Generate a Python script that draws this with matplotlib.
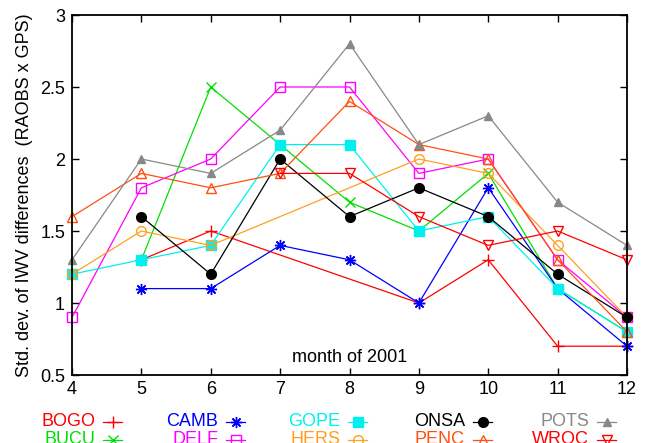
import matplotlib
matplotlib.use('Agg')
import matplotlib.pyplot as plt
from matplotlib.lines import Line2D

plt.rcParams['font.family'] = ['Liberation Sans', 'DejaVu Sans']

# std. dev. of IWV differences per station, by month of 2001
months_bogo = [5, 6, 9, 10, 11, 12]
bogo = [1.3, 1.5, 1.0, 1.3, 0.7, 0.7]
months_bucu = [5, 6, 7, 8, 9, 10, 11, 12]
bucu = [1.3, 2.5, 2.1, 1.7, 1.5, 1.9, 1.1, 0.8]
months_camb = [5, 6, 7, 8, 9, 10, 11, 12]
camb = [1.1, 1.1, 1.4, 1.3, 1.0, 1.8, 1.1, 0.7]
months_delf = [4, 5, 6, 7, 8, 9, 10, 11, 12]
delf = [0.9, 1.8, 2.0, 2.5, 2.5, 1.9, 2.0, 1.3, 0.9]
months_gope = [4, 5, 6, 7, 8, 9, 10, 11, 12]
gope = [1.2, 1.3, 1.4, 2.1, 2.1, 1.5, 1.6, 1.1, 0.8]
months_hers = [4, 5, 6, 9, 10, 11, 12]
hers = [1.2, 1.5, 1.4, 2.0, 1.9, 1.4, 0.9]
months_onsa = [5, 6, 7, 8, 9, 10, 11, 12]
onsa = [1.6, 1.2, 2.0, 1.6, 1.8, 1.6, 1.2, 0.9]
months_penc = [4, 5, 6, 7, 8, 9, 10, 11, 12]
penc = [1.6, 1.9, 1.8, 1.9, 2.4, 2.1, 2.0, 1.3, 0.8]
months_pots = [4, 5, 6, 7, 8, 9, 10, 11, 12]
pots = [1.3, 2.0, 1.9, 2.2, 2.8, 2.1, 2.3, 1.7, 1.4]
months_wroc = [7, 8, 9, 10, 11, 12]
wroc = [1.9, 1.9, 1.6, 1.4, 1.5, 1.3]

names = ['BOGO', 'BUCU', 'CAMB', 'DELF', 'GOPE', 'HERS', 'ONSA', 'PENC', 'POTS', 'WROC']
xs = [months_bogo, months_bucu, months_camb, months_delf, months_gope,
      months_hers, months_onsa, months_penc, months_pots, months_wroc]
ys = [bogo, bucu, camb, delf, gope, hers, onsa, penc, pots, wroc]

# colour, marker, marker size, filled?
styles = [
    ('#ff0000', '+', 8, True),
    ('#00e000', 'x', 6.5, True),
    ('#0000ff', (8, 2, 0), 8, True),
    ('#ff00ff', 's', 6.5, False),
    ('#00f0f0', 's', 6.5, True),
    ('#ffa020', 'o', 7, False),
    ('#000000', 'o', 7, True),
    ('#ff5010', '^', 7, False),
    ('#888888', '^', 6, True),
    ('#ff0000', 'v', 7, False),
]

fs = 13

fig = plt.figure(figsize=(6.48, 4.43), dpi=100)
ax = fig.add_axes([72 / 648, 1 - 375 / 443, 555 / 648, 360 / 443])

for x, y, (c, m, ms, filled) in zip(xs, ys, styles):
    ax.plot(x, y, color=c, lw=0.9, marker=m, ms=ms, mew=1.0,
            mfc=c if filled else 'none', mec=c, clip_on=False)

ax.set_xlim(4, 12)
ax.set_ylim(0.5, 3)
ax.set_xticks(range(4, 13))
ax.set_yticks([0.5, 1, 1.5, 2, 2.5, 3])
ax.set_yticklabels(['0.5', '1', '1.5', '2', '2.5', '3'])
ax.tick_params(direction='in', length=5, width=1, labelsize=fs,
               top=True, right=True, pad=5)
ax.tick_params(axis='x', pad=4)
for s in ax.spines.values():
    s.set_linewidth(1.3)

ax.set_ylabel('Std. dev. of IWV differences  (RAOBS x GPS)', fontsize=fs, labelpad=5)
ax.text(8, 0.62, 'month of 2001', ha='center', va='center', fontsize=fs)

# gnuplot-style key below the plot: right-aligned names, sample on the right
text_right = [95, 218, 340, 465, 589]
row_y = [422, 440]
for i, (name, (c, m, ms, filled)) in enumerate(zip(names, styles)):
    col, row = i // 2, i % 2
    xr = text_right[col]
    yc = 1 - row_y[row] / 443
    fig.text(xr / 648, yc, name, color=c, ha='right', va='center', fontsize=fs)
    x0, x1 = (xr + 8) / 648, (xr + 27) / 648
    fig.add_artist(Line2D([x0, x1], [yc, yc], color=c, lw=0.9,
                          transform=fig.transFigure))
    fig.add_artist(Line2D([(x0 + x1) / 2], [yc], color=c, marker=m, ms=ms, mew=1.0,
                          mfc=c if filled else 'none', mec=c, transform=fig.transFigure))

fig.savefig('out.png', dpi=100)
